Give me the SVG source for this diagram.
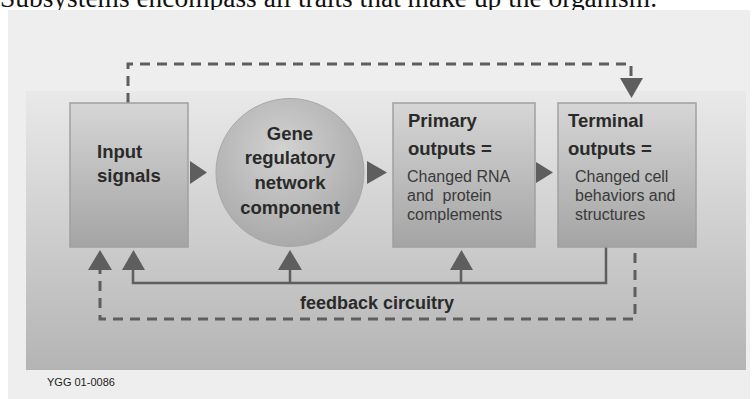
<svg xmlns="http://www.w3.org/2000/svg" width="755" height="399" viewBox="0 0 755 399">
<defs>
<linearGradient id="bg" x1="0" y1="0" x2="0" y2="1">
<stop offset="0" stop-color="#e9e9e9"/>
<stop offset="1" stop-color="#b4b4b4"/>
</linearGradient>
<linearGradient id="box" x1="0" y1="0" x2="0" y2="1">
<stop offset="0" stop-color="#d6d6d6"/>
<stop offset="1" stop-color="#a4a4a4"/>
</linearGradient>
<radialGradient id="circ" cx="0.45" cy="0.35" r="0.7">
<stop offset="0" stop-color="#d2d2d2"/>
<stop offset="1" stop-color="#a6a6a6"/>
</radialGradient>
<style>
.box{fill:url(#box);stroke:#a0a0a0;stroke-width:1.5}
.tri{fill:#5e5e5e}
.solid{fill:none;stroke:#5e5e5e;stroke-width:2.5}
.dash{fill:none;stroke:#5e5e5e;stroke-width:3;stroke-dasharray:10 7}
.h{font-family:"Liberation Sans",Arial,sans-serif;font-weight:bold;font-size:18.5px;fill:#2a2a2a}
.b{font-family:"Liberation Sans",Arial,sans-serif;font-size:16px;fill:#3a3a3a}
</style>
</defs>
<rect width="755" height="399" fill="#ffffff"/>
<text x="0" y="6.5" font-family="Liberation Serif,'Times New Roman',serif" font-size="27.5" textLength="657" lengthAdjust="spacingAndGlyphs" fill="#111">Subsystems encompass all traits that make up the organism.</text>
<rect x="8" y="10" width="742" height="389" fill="#eeeeee"/>
<rect x="26" y="91" width="720" height="279" fill="url(#bg)"/>

<g id="connectors">
<path class="dash" d="M128,103 V64 H631 V80"/>
<polygon class="tri" points="620,78 643,78 631.5,98"/>
<polygon class="tri" points="190,161 190,184 207,172.5"/>
<polygon class="tri" points="367,161 367,184 387,172.5"/>
<polygon class="tri" points="536,162 536,183 553,172.5"/>
<path class="solid" d="M606,247 V283 H133 V268 M290,283 V268 M461,283 V268"/>
<polygon class="tri" points="122,270 145,270 133.5,250"/>
<polygon class="tri" points="278,270 302,270 290,250"/>
<polygon class="tri" points="450,270 473,270 461.5,250"/>
<path class="dash" d="M635,253 V319 H100 V270"/>
<polygon class="tri" points="88,270 112,270 100,250"/>
<text x="300" y="309" class="h" style="font-size:18px">feedback circuitry</text>
</g>

<g id="input">
<rect class="box" x="70" y="103" width="118" height="144"/>
<text class="h" x="97" y="158">Input</text>
<text class="h" x="97" y="182">signals</text>
</g>

<g id="grn">
<circle cx="290" cy="172.5" r="74" fill="url(#circ)" stroke="#a8a8a8" stroke-width="1"/>
<text class="h" text-anchor="middle" x="290" y="140">Gene</text>
<text class="h" text-anchor="middle" x="290" y="164">regulatory</text>
<text class="h" text-anchor="middle" x="290" y="189">network</text>
<text class="h" text-anchor="middle" x="290" y="214">component</text>
</g>

<g id="primary">
<rect class="box" x="393" y="103" width="142" height="144"/>
<text class="h" x="408" y="127">Primary</text>
<text class="h" x="408" y="155">outputs =</text>
<text class="b" x="407" y="182">Changed RNA</text>
<text class="b" x="407" y="201" xml:space="preserve">and  protein</text>
<text class="b" x="407" y="220">complements</text>
</g>

<g id="terminal">
<rect class="box" x="558" y="103" width="138" height="144"/>
<text class="h" x="568" y="127">Terminal</text>
<text class="h" x="568" y="155">outputs =</text>
<text class="b" x="575" y="182">Changed cell</text>
<text class="b" x="575" y="201">behaviors and</text>
<text class="b" x="575" y="220">structures</text>
</g>

<text x="47" y="386" font-family="Liberation Sans,Arial,sans-serif" font-size="11" fill="#222">YGG 01-0086</text>
</svg>
